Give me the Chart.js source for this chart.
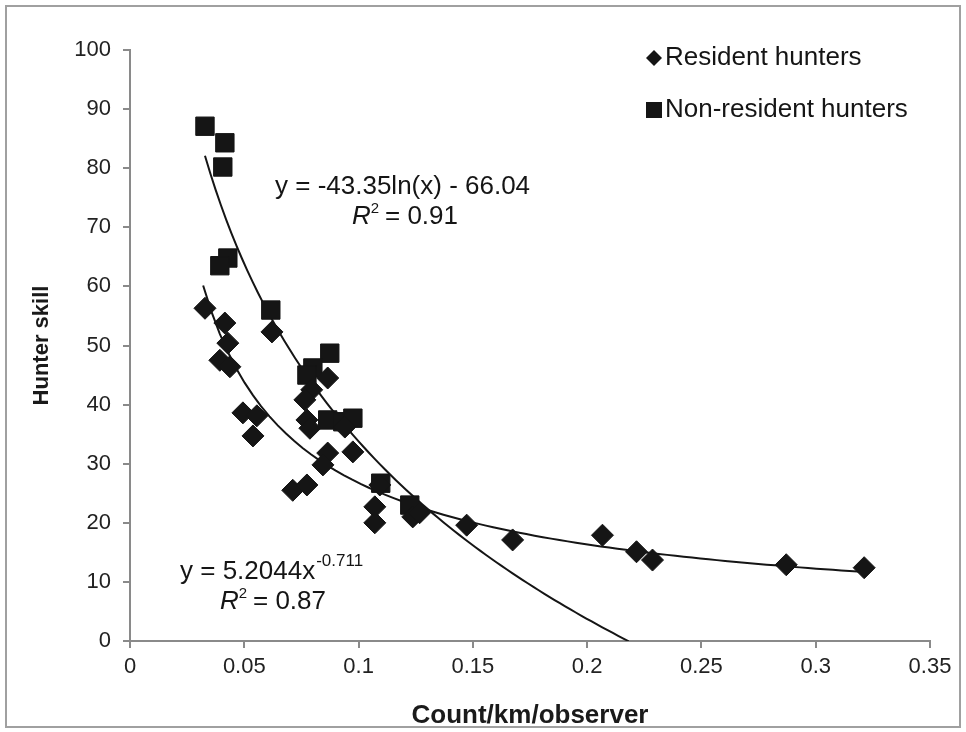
<!DOCTYPE html>
<html>
<head>
<meta charset="utf-8">
<script src="https://cdn.jsdelivr.net/npm/chart.js@4.4.1/dist/chart.umd.min.js"></script>
<style>
  html, body { margin: 0; padding: 0; background: #fff; }
  canvas { display: block; }
</style>
</head>
<body>
<canvas id="skill-chart" width="966" height="732"></canvas>
<script>
// resident hunters (diamonds)
var residentX = [0.0328, 0.0415, 0.0428, 0.0393, 0.0437, 0.0621, 0.0494, 0.0555, 0.0538,
  0.0865, 0.0795, 0.0765, 0.0774, 0.0787, 0.0940, 0.0975, 0.0865, 0.0844, 0.0712, 0.0774,
  0.1071, 0.1071, 0.1093, 0.1237, 0.1267, 0.1473, 0.1674, 0.2067, 0.2216, 0.2286, 0.2871, 0.3212];
var residentY = [56.3, 53.8, 50.4, 47.5, 46.4, 52.3, 38.6, 38.1, 34.7,
  44.5, 42.5, 40.8, 37.4, 36.0, 36.2, 32.0, 31.8, 29.8, 25.5, 26.4,
  22.7, 20.0, 26.4, 21.0, 21.7, 19.6, 17.1, 17.9, 15.1, 13.7, 12.9, 12.4];

// non-resident hunters (squares)
var nonResX = [0.0328, 0.0415, 0.0406, 0.0428, 0.0393, 0.0616, 0.0874, 0.0800, 0.0774,
  0.0865, 0.0931, 0.0975, 0.1097, 0.1224];
var nonResY = [87.1, 84.3, 80.2, 64.8, 63.5, 56.0, 48.7, 46.2, 45.0,
  37.4, 37.1, 37.7, 26.7, 23.0];

// trend line coefficients, as printed on the chart
var powA = 5.2044, powB = -0.711;   // resident: y = a x^b
var logA = -43.35, logB = -66.04;   // non-resident: y = a ln(x) + b
var powRange = [0.032, 0.322];
var logRange = [0.0328, 0.2182];

var xTicks = [0, 0.05, 0.1, 0.15, 0.2, 0.25, 0.3, 0.35];
var yTicks = [0, 10, 20, 30, 40, 50, 60, 70, 80, 90, 100];

function pts(xs, ys) {
  return xs.map(function (x, i) { return {x: x, y: ys[i]}; });
}

function curve(range, f) {
  var out = [];
  var n = 80;
  for (var i = 0; i <= n; i++) {
    var x = range[0] + (range[1] - range[0]) * i / n;
    out.push({x: x, y: f(x)});
  }
  return out;
}

var ink = '#151515';
var fam = "'Liberation Sans', Arial, sans-serif";

// R² label with italic R and small raised 2
function rSquared(ctx, x, y, txt) {
  ctx.font = 'italic 26px ' + fam;
  ctx.fillText('R', x, y);
  var rw = ctx.measureText('R').width;
  ctx.font = '15px ' + fam;
  ctx.fillText('2', x + rw, y - 8);
  ctx.font = '26px ' + fam;
  ctx.fillText(' = ' + txt, x + rw + 7, y);
}

var overlay = {
  id: 'overlay',
  beforeDraw: function (chart) {
    var ctx = chart.ctx;
    ctx.save();
    ctx.fillStyle = '#fff';
    ctx.fillRect(0, 0, chart.width, chart.height);
    ctx.strokeStyle = '#a0a0a0';
    ctx.lineWidth = 2;
    ctx.strokeRect(6, 6, 954, 721);
    ctx.restore();
  },
  afterDraw: function (chart) {
    var ctx = chart.ctx;
    ctx.save();
    ctx.fillStyle = ink;
    ctx.textBaseline = 'middle';

    // legend
    ctx.beginPath();
    ctx.moveTo(654, 50); ctx.lineTo(662, 58); ctx.lineTo(654, 66); ctx.lineTo(646, 58);
    ctx.closePath(); ctx.fill();
    ctx.fillRect(646, 102, 16, 16);
    ctx.font = '26px ' + fam;
    ctx.fillText('Resident hunters', 665, 58);
    ctx.fillText('Non-resident hunters', 665, 110);

    // equations
    ctx.font = '26px ' + fam;
    ctx.fillText('y = -43.35ln(x) - 66.04', 275, 187);
    rSquared(ctx, 352, 217, '0.91');

    ctx.font = '26px ' + fam;
    ctx.fillText('y = 5.2044x', 180, 572);
    var w2 = ctx.measureText('y = 5.2044x').width;
    ctx.font = '17px ' + fam;
    ctx.fillText('-0.711', 180 + w2 + 1, 561);
    rSquared(ctx, 220, 602, '0.87');
    ctx.restore();
  }
};

Chart.defaults.font.family = fam;
Chart.defaults.color = '#222';

new Chart(document.getElementById('skill-chart'), {
  type: 'scatter',
  data: {
    datasets: [{
      label: 'Resident hunters',
      data: pts(residentX, residentY),
      pointStyle: 'rectRot',
      pointRadius: 11,
      backgroundColor: ink,
      borderColor: ink,
      borderWidth: 1
    }, {
      label: 'Non-resident hunters',
      data: pts(nonResX, nonResY),
      pointStyle: 'rect',
      pointRadius: 13,
      backgroundColor: ink,
      borderColor: ink,
      borderWidth: 1
    }, {
      label: 'power fit',
      data: curve(powRange, function (x) { return powA * Math.pow(x, powB); }),
      showLine: true,
      pointRadius: 0,
      borderColor: ink,
      borderWidth: 2,
      tension: 0
    }, {
      label: 'log fit',
      data: curve(logRange, function (x) { return logA * Math.log(x) + logB; }),
      showLine: true,
      pointRadius: 0,
      borderColor: ink,
      borderWidth: 2,
      tension: 0
    }]
  },
  options: {
    responsive: false,
    animation: false,
    layout: { padding: { top: 50, right: 36, left: 0, bottom: 0 } },
    plugins: {
      legend: { display: false },
      tooltip: { enabled: false }
    },
    scales: {
      x: {
        type: 'linear',
        min: 0,
        max: 0.35,
        afterBuildTicks: function (s) { s.ticks = xTicks.map(function (v) { return {value: v}; }); },
        afterFit: function (s) { s.height = 91; },
        ticks: {
          font: { size: 22 },
          padding: 6,
          callback: function (v) { return String(+v.toFixed(2)); }
        },
        grid: { drawOnChartArea: false, drawTicks: true, tickLength: 7, color: '#8a8a8a', lineWidth: 2 },
        border: { color: '#8a8a8a', width: 2 },
        title: {
          display: true,
          text: 'Count/km/observer',
          font: { size: 26, weight: 'bold' },
          color: '#1a1a1a',
          padding: { top: 0, bottom: 1 }
        }
      },
      y: {
        min: 0,
        max: 100,
        afterBuildTicks: function (s) { s.ticks = yTicks.map(function (v) { return {value: v}; }); },
        afterFit: function (s) { s.width = 130; },
        ticks: { font: { size: 22 }, padding: 12 },
        grid: { drawOnChartArea: false, drawTicks: true, tickLength: 7, color: '#8a8a8a', lineWidth: 2 },
        border: { color: '#8a8a8a', width: 2 },
        title: {
          display: true,
          text: 'Hunter skill',
          font: { size: 22, weight: 'bold' },
          color: '#1a1a1a',
          padding: { top: 29, bottom: 0 }
        }
      }
    }
  },
  plugins: [overlay]
});
</script>
</body>
</html>
